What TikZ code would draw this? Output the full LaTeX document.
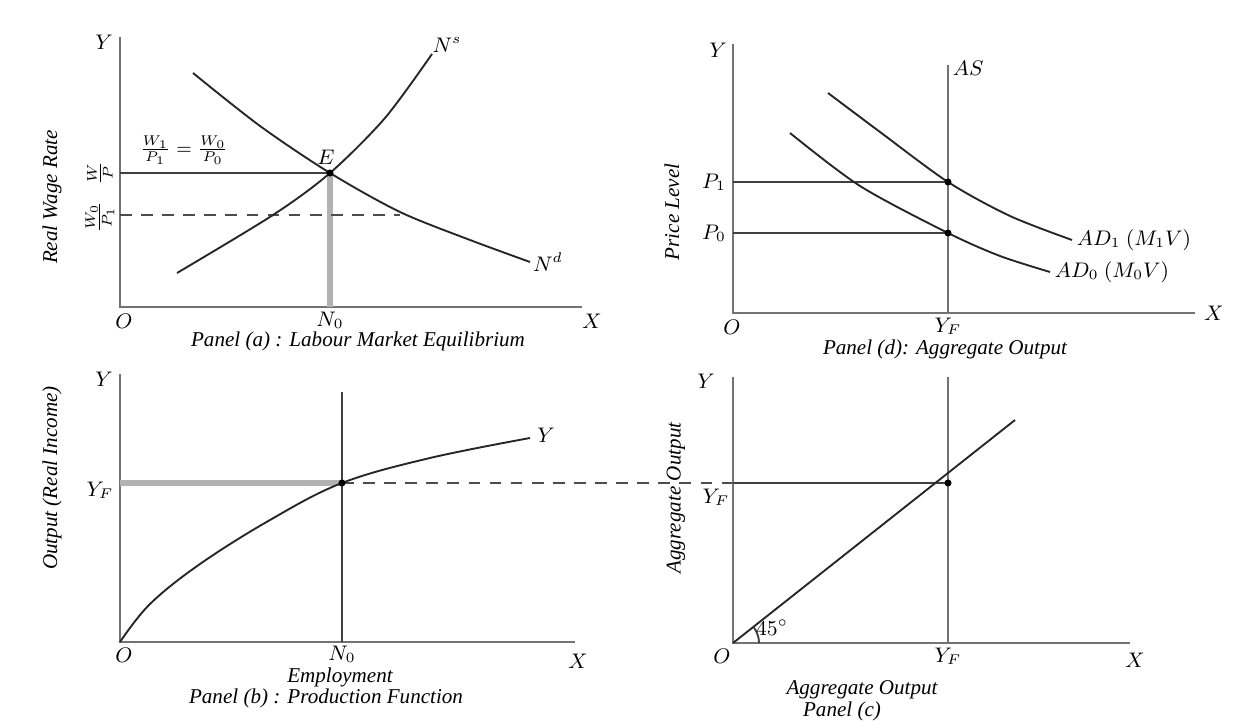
\documentclass[tikz,border=0pt]{standalone}
\usepackage{fontspec}
\setmainfont{Liberation Serif}
\usepackage{amsmath}
\usetikzlibrary{positioning, calc}

\begin{document}
\begin{tikzpicture}[x=0.015cm, y=-0.015cm,
    axis/.style={draw=black!55, line width=1.1pt},
    curve/.style={line width=0.8pt, black!85},
    guide/.style={line width=0.8pt, black!75},
    heavyguide/.style={line width=2.2pt, black!30},
    dashguide/.style={line width=0.8pt, black!70, dash pattern=on 5pt off 4pt},
    lbl/.style={font=\small, inner sep=1pt},
    captxt/.style={font=\small\itshape, inner sep=1pt},
    dot/.style={circle, fill=black, inner sep=0pt, minimum size=3pt}]
    \path[use as bounding box, fill=white] (0,0) rectangle (1248,725);

    % panel (a)
    \coordinate (Oa) at (120,307);
    \coordinate (Ya) at (120,37);
    \coordinate (Xa) at (582,307);
    \coordinate (Ea) at (330,173);
    \coordinate (Na) at (330,307);
    \coordinate (Wa) at (120,173);
    \coordinate (Wb) at (120,215);
    \coordinate (Wc) at (400,215);
    \draw[axis] (Ya) -- (Oa) -- (Xa);
    \draw[heavyguide] (Ea) -- (Na);
    \draw[guide] (Wa) -- (Ea);
    \draw[dashguide] (Wb) -- (Wc);
    \draw[curve] plot[smooth] coordinates {(193,73) (260,126) (330,173) (400,212) (470,240) (530,262)};
    \draw[curve] plot[smooth] coordinates {(177,273) (273,215) (330,173) (385,118) (432,54)};
    \node[dot] (ea) at (Ea) {};
    \node[lbl] (ela) at (326,157) {$E$};
    \node[lbl] (nsa) at (447,45) {$N^s$};
    \node[lbl] (nda) at (548,262) {$N^d$};
    \node[lbl] (ya) at (104,42) {$Y$};
    \node[lbl] (oa) at (124,321) {$O$};
    \node[lbl] (xa) at (592,321) {$X$};
    \node[lbl] (n0a) at (330,320) {$N_0$};
    \node[lbl, font=\footnotesize] (wpa) at (184,150) {$\frac{W_1}{P_1}=\frac{W_0}{P_0}$};
    \node[lbl, rotate=90] (wp1) at (100,173) {$\frac{W}{P}$};
    \node[lbl, rotate=90] (wp0) at (100,217) {$\frac{W_0}{P_1}$};
    \node[captxt, rotate=90] (rwa) at (52,197) {Real Wage Rate};
    \node[captxt] (capa) at (358,341) {Panel (a) : Labour Market Equilibrium};

    % panel (d)
    \coordinate (Od) at (733,313);
    \coordinate (Yd) at (733,44);
    \coordinate (Xd) at (1195,313);
    \coordinate (ASt) at (948,65);
    \coordinate (ASb) at (948,313);
    \coordinate (P1l) at (733,182);
    \coordinate (P1r) at (948,182);
    \coordinate (P0l) at (733,233);
    \coordinate (P0r) at (948,233);
    \draw[axis] (Yd) -- (Od) -- (Xd);
    \draw[axis] (ASt) -- (ASb);
    \draw[guide] (P1l) -- (P1r);
    \draw[guide] (P0l) -- (P0r);
    \draw[curve] plot[smooth] coordinates {(828,93) (880,132) (948,182) (1010,216) (1072,240)};
    \draw[curve] plot[smooth] coordinates {(790,133) (860,186) (948,233) (1000,256) (1050,272)};
    \node[dot] (d1) at (P1r) {};
    \node[dot] (d0) at (P0r) {};
    \node[lbl, anchor=west] (asd) at (950,68) {$AS$};
    \node[lbl, anchor=west] (ad1) at (1074,240) {$AD_1\ (M_1V)$};
    \node[lbl, anchor=west] (ad0) at (1052,272) {$AD_0\ (M_0V)$};
    \node[lbl] (yd) at (718,50) {$Y$};
    \node[lbl] (od) at (732,327) {$O$};
    \node[lbl] (xd) at (1214,313) {$X$};
    \node[lbl] (yfd) at (948,326) {$Y_F$};
    \node[lbl] (p1d) at (714,182) {$P_1$};
    \node[lbl] (p0d) at (714,233) {$P_0$};
    \node[captxt, rotate=90] (pld) at (672,212) {Price Level};
    \node[captxt] (capd) at (945,349) {Panel (d): Aggregate Output};

    % panel (b)
    \coordinate (Ob) at (120,642);
    \coordinate (Yb) at (120,374);
    \coordinate (Xb) at (575,642);
    \coordinate (Nt) at (342,392);
    \coordinate (Nb) at (342,642);
    \coordinate (Fb) at (120,483);
    \coordinate (Fr) at (342,483);
    \coordinate (Fc) at (733,483);
    \draw[axis] (Yb) -- (Ob) -- (Xb);
    \draw[guide] (Nt) -- (Nb);
    \draw[heavyguide] (Fb) -- (Fr);
    \draw[dashguide] (Fr) -- (Fc);
    \draw[curve] plot[smooth, tension=0.6] coordinates {(120,642) (150,604) (200,564) (270,520) (342,483) (430,458) (530,438)};
    \node[dot] (db) at (Fr) {};
    \node[lbl] (yyb) at (546,435) {$Y$};
    \node[lbl] (yb) at (104,379) {$Y$};
    \node[lbl] (ob) at (124,655) {$O$};
    \node[lbl] (xb) at (578,661) {$X$};
    \node[lbl] (n0b) at (342,654) {$N_0$};
    \node[lbl] (yfb) at (100,490) {$Y_F$};
    \node[captxt, rotate=90] (oib) at (52,478) {Output (Real Income)};
    \node[captxt] (empb) at (340,677) {Employment};
    \node[captxt] (capb) at (326,698) {Panel (b) : Production Function};

    % panel (c)
    \coordinate (Oc) at (733,643);
    \coordinate (Yc) at (733,377);
    \coordinate (Xc) at (1130,643);
    \coordinate (Vt) at (948,377);
    \coordinate (Vb) at (948,643);
    \coordinate (Fd) at (948,483);
    \coordinate (Lt) at (1015,420);
    \draw[axis] (Yc) -- (Oc) -- (Xc);
    \draw[axis] (Vt) -- (Vb);
    \draw[guide] (Fc) -- (Fd);
    \draw[curve] (Oc) -- (Lt);
    \draw[guide] ($(Oc)+(26,0)$) arc[start angle=0, end angle=38, radius=0.39cm];
    \node[dot] (dc) at (Fd) {};
    \node[lbl] (ac) at (772,628) {$45^\circ$};
    \node[lbl] (yc) at (706,381) {$Y$};
    \node[lbl] (oc) at (722,656) {$O$};
    \node[lbl] (xc) at (1135,660) {$X$};
    \node[lbl] (yfc) at (948,656) {$Y_F$};
    \node[lbl] (yfl) at (716,497) {$Y_F$};
    \node[captxt, rotate=90] (aoc) at (676,498) {Aggregate Output};
    \node[captxt] (aoxc) at (862,690) {Aggregate Output};
    \node[captxt] (capc) at (842,711) {Panel (c)};
\end{tikzpicture}
\end{document}
